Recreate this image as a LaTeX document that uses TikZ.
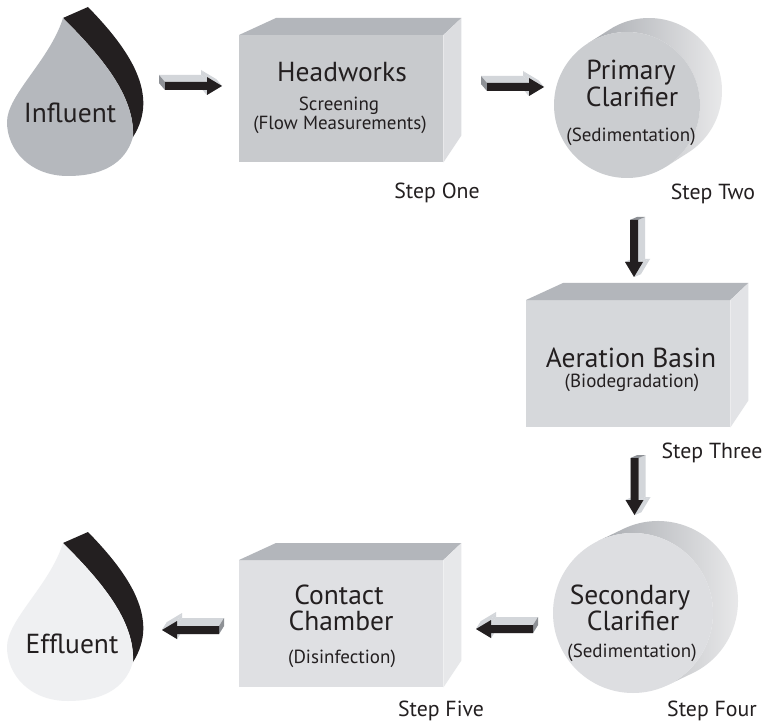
\documentclass[tikz,border=0pt]{standalone}
\usepackage{fontspec}
\setmainfont{PT Sans}
\usetikzlibrary{calc}
\definecolor{txtc}{HTML}{231F20}
\definecolor{blk}{HTML}{231F20}
\definecolor{infl}{HTML}{B5B8BD}
\definecolor{effl}{HTML}{EFF0F2}
\definecolor{arrside}{HTML}{D3D6DA}
\definecolor{arrendc}{HTML}{8E9196}
\definecolor{topc}{HTML}{B3B6BB}
\definecolor{hwfront}{HTML}{C8CACD}
\definecolor{hwright}{HTML}{DCDDE0}
\definecolor{abfront}{HTML}{D6D8DB}
\definecolor{abright}{HTML}{E2E3E6}
\definecolor{ccfront}{HTML}{DFE0E3}
\definecolor{ccright}{HTML}{E7E8EA}
\definecolor{pcfront}{HTML}{CBCDD0}
\definecolor{scfront}{HTML}{DDDEE1}
\definecolor{sidedark}{HTML}{A9ACB1}
\definecolor{sidelight}{HTML}{EDEDEE}
\tikzset{
  title/.style={text=txtc, inner sep=0pt, anchor=base, font=\fontsize{27.5}{29}\selectfont},
  subt/.style={text=txtc, inner sep=0pt, anchor=base, font=\fontsize{19}{21}\selectfont},
  steplbl/.style={text=txtc, inner sep=0pt, anchor=base, font=\fontsize{21.8}{24}\selectfont},
  boxfront/.style={draw=none, inner sep=0pt, anchor=north west, minimum width=204pt, minimum height=127pt},
  disk/.style={circle, draw=none, inner sep=0pt},
}
\newcommand{\blockarrow}[4]{%
  \begin{scope}[shift={(#1)},rotate=#2]
    \foreach \ax/\ay/\bx/\by in {0/4/42/4, 42/4/42/9, 42/9/57/0, 57/0/42/-9, 42/-9/42/-4, 42/-4/0/-4}
      \fill[arrside] (\ax,\ay) -- (\bx,\by) -- (\bx+#3,\by+#4) -- (\ax+#3,\ay+#4) -- cycle;
    \fill[arrendc] (0,-4) -- (0,4) -- (#3,4+#4) -- (#3,-4+#4) -- cycle;
    \fill[blk] (0,4) -- (42,4) -- (42,9) -- (57,0) -- (42,-9) -- (42,-4) -- (0,-4) -- cycle;
  \end{scope}}
\newcommand{\dropshape}[2]{%
  \begin{scope}[yshift=#1]
    \fill[blk] (63,-18) -- (88,-7) .. controls (130,-50) and (160,-95) .. (133,-137)
      .. controls (135,-95) and (100,-55) .. (63,-18) -- cycle;
    \fill[#2] (63,-18) .. controls (100,-55) and (135,-95) .. (133,-137)
      .. controls (125,-165) and (100,-176) .. (68,-176)
      .. controls (30,-176) and (7,-150) .. (7,-122)
      .. controls (7,-95) and (50,-60) .. (63,-18) -- cycle;
  \end{scope}}
\newcommand{\cylside}[4]{% #1 centre coord, #2 radius, #3 vx, #4 vy
  \pgfmathsetmacro\cang{atan2(#4,#3)}
  \shade[left color=sidedark, right color=sidelight]
    ($(#1)+(\cang+90:#2)$) -- ($(#1)+(#3,#4)+(\cang+90:#2)$)
    arc[start angle=\cang+90, end angle=\cang-90, radius=#2]
    -- ($(#1)+(\cang-90:#2)$)
    arc[start angle=\cang-90, end angle=\cang+90, radius=#2] -- cycle;}
\newcommand{\boxfaces}[3]{% #1 node, #2 top colour, #3 right colour
  \fill[#2] (#1.north west) -- ++(37,17) -- ($(#1.north east)+(18,17)$) -- (#1.north east) -- cycle;
  \fill[#3] (#1.north east) -- ++(18,17) -- ($(#1.south east)+(18,27)$) -- (#1.south east) -- cycle;}
\begin{document}
\begin{tikzpicture}[x=1pt,y=1pt]
\useasboundingbox (0,0) rectangle (766,-722);
\fill[white] (0,0) rectangle (766,-722);

% drops
\dropshape{0pt}{infl}
\node[title] (influent) at (70,-123) {Influent};
\dropshape{-525pt}{effl}
\node[title] (effluent) at (72,-653) {Effluent};

% Headworks
\node[boxfront, fill=hwfront] (hw) at (239,-35) {};
\boxfaces{hw}{topc}{hwright}
\node[title] (hwt) at (342,-82) {Headworks};
\node[subt] (hws1) at (339,-111) {Screening};
\node[subt] (hws2) at (340,-130) {(Flow Measurements)};
\node[steplbl] (s1) at (437,-199) {Step One};

% Primary clarifier
\coordinate (pcc) at (627,-105);
\cylside{pcc}{73}{22}{14}
\node[disk, fill=pcfront, minimum size=146pt] (pc) at (pcc) {};
\node[title] (pct1) at (631,-80) {Primary};
\node[title] (pct2) at (632,-107) {Clarifier};
\node[subt] (pcs) at (631,-142) {(Sedimentation)};
\node[steplbl] (s2) at (713,-200) {Step Two};

% Aeration basin
\node[boxfront, fill=abfront] (ab) at (526,-300) {};
\boxfaces{ab}{topc}{abright}
\node[title] (abt) at (631,-367) {Aeration Basin};
\node[subt] (abs) at (632,-387) {(Biodegradation)};
\node[steplbl] (s3) at (712,-458) {Step Three};

% Secondary clarifier
\coordinate (scc) at (633,-613);
\cylside{scc}{80}{25}{12}
\node[disk, fill=scfront, minimum size=160pt] (sc) at (scc) {};
\node[title] (sct1) at (630,-604) {Secondary};
\node[title] (sct2) at (633,-630) {Clarifier};
\node[subt] (scs) at (632,-657) {(Sedimentation)};
\node[steplbl] (s4) at (712,-716) {Step Four};

% Contact chamber
\node[boxfront, fill=ccfront] (cc) at (239,-560) {};
\boxfaces{cc}{topc}{ccright}
\node[title] (cct1) at (339,-604) {Contact};
\node[title] (cct2) at (341,-630) {Chamber};
\node[subt] (ccs) at (342,-663) {(Disinfection)};
\node[steplbl] (s5) at (441,-716) {Step Five};

% arrows
\coordinate (a1) at (165,-86);
\coordinate (a2) at (487,-87);
\coordinate (a3) at (634,-220);
\coordinate (a4) at (634.5,-458);
\coordinate (a5) at (533,-629);
\coordinate (a6) at (219,-630);
\blockarrow{a1}{0}{-6}{7}
\blockarrow{a2}{0}{-6}{7}
\blockarrow{a3}{-90}{-3}{7}
\blockarrow{a4}{-90}{-3}{7}
\blockarrow{a5}{180}{-5}{-8}
\blockarrow{a6}{180}{-5}{-8}
\end{tikzpicture}
\end{document}
